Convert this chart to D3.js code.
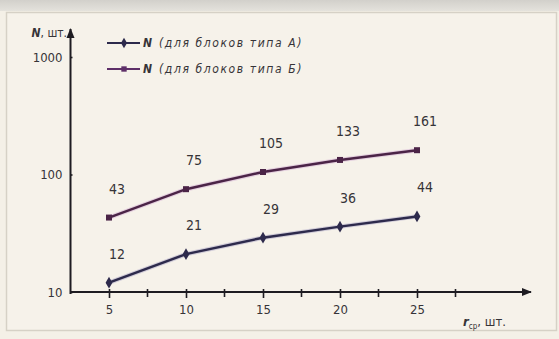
<!DOCTYPE html>
<html>
<head>
<meta charset="utf-8">
<script src="https://cdn.jsdelivr.net/npm/d3@7/dist/d3.min.js"></script>
<style>
  html, body { margin: 0; padding: 0; background: #f4f0e7; }
  svg { display: block; }
  text { font-family: "DejaVu Sans Condensed", "DejaVu Sans", sans-serif; font-stretch: condensed; fill: #363438; }
</style>
</head>
<body>
<svg id="chart" width="559" height="339"></svg>
<script>
// Number of blocks vs. average r
const rValues = [5, 10, 15, 20, 25];
const seriesA = [12, 21, 29, 36, 44];     // блоки типа А
const seriesB = [43, 75, 105, 133, 161];  // блоки типа Б
const xTickValues = [5, 10, 15, 20, 25];
const xMinorTicks = [7.5, 12.5, 17.5, 22.5, 27.5];
const yTickValues = [10, 100, 1000];
const legendLabels = ["(для блоков типа А)", "(для блоков типа Б)"];

const svg = d3.select("#chart");
const W = 559, H = 339;
const fontFam = "'DejaVu Sans Condensed', 'DejaVu Sans', sans-serif";

// Paper background with a darker strip at the top and a thin frame
const defs = svg.append("defs");
const grad = defs.append("linearGradient").attr("id", "topband").attr("x1", 0).attr("x2", 0).attr("y1", 0).attr("y2", 1);
grad.append("stop").attr("offset", "0%").attr("stop-color", "#d2d0cb");
grad.append("stop").attr("offset", "100%").attr("stop-color", "#e4e2dc");
svg.append("rect").attr("width", W).attr("height", H).attr("fill", "#f4f0e7");
svg.append("rect").attr("width", W).attr("height", 11).attr("fill", "url(#topband)");
svg.append("rect").attr("x", 6.5).attr("y", 12.5).attr("width", 550).attr("height", 318)
  .attr("fill", "#f6f2ea").attr("stroke", "#d6d1c6").attr("stroke-width", 1.5);

const x = d3.scaleLinear().domain([5, 25]).range([109, 417]);
const y = d3.scaleLog().domain([10, 1000]).range([292, 57]);

const axisColor = "#1e1c22";
const x0 = x(2.5), xEnd = x(32.4);
const yTop = 29;

// Arrow heads
defs.append("marker").attr("id", "arrow").attr("viewBox", "0 0 10 10")
  .attr("refX", 9).attr("refY", 5).attr("markerWidth", 5).attr("markerHeight", 5)
  .attr("orient", "auto")
  .append("path").attr("d", "M0,1 L10,5 L0,9 Z").attr("fill", axisColor);

// X axis
const xAxisG = svg.append("g").attr("transform", `translate(0,${y(10)})`);
xAxisG.call(d3.axisBottom(x).tickValues(xTickValues).tickSize(6).tickFormat(d3.format("d")));
xAxisG.select(".domain").remove();
xAxisG.selectAll(".tick line").attr("stroke", axisColor).attr("stroke-width", 1.6).attr("y1", -3);
xAxisG.selectAll(".tick text").attr("y", 13).attr("font-size", 13).attr("fill", "#363438")
  .style("font-family", fontFam).style("font-stretch", "condensed");
xAxisG.selectAll(".minor").data(xMinorTicks).enter().append("line")
  .attr("x1", d => x(d)).attr("x2", d => x(d)).attr("y1", -3).attr("y2", 5)
  .attr("stroke", axisColor).attr("stroke-width", 1.6);
svg.append("line").attr("x1", x0).attr("x2", xEnd).attr("y1", y(10)).attr("y2", y(10))
  .attr("stroke", axisColor).attr("stroke-width", 2).attr("marker-end", "url(#arrow)");

// Y axis
const yAxisG = svg.append("g").attr("transform", `translate(${x0},0)`);
yAxisG.call(d3.axisLeft(y).tickValues(yTickValues).tickSize(5).tickFormat(d3.format("d")));
yAxisG.select(".domain").remove();
yAxisG.selectAll(".tick line").attr("stroke", axisColor).attr("stroke-width", 1.6).attr("x2", 2);
yAxisG.selectAll(".tick text").attr("x", -8).attr("font-size", 13).attr("fill", "#363438")
  .style("font-family", fontFam).style("font-stretch", "condensed");
svg.append("line").attr("x1", x0).attr("x2", x0).attr("y1", y(10) + 2).attr("y2", yTop)
  .attr("stroke", axisColor).attr("stroke-width", 2).attr("marker-end", "url(#arrow)");

// Axis titles
const yTitle = svg.append("text").attr("x", 67).attr("y", 37).attr("font-size", 12)
  .attr("text-anchor", "end");
yTitle.append("tspan").attr("font-style", "italic").attr("font-weight", "bold").text("N");
yTitle.append("tspan").text(", шт.");

const xTitle = svg.append("text").attr("x", 463).attr("y", 326).attr("font-size", 13);
xTitle.append("tspan").attr("font-style", "italic").attr("font-weight", "bold").text("r");
xTitle.append("tspan").attr("font-size", 8).attr("dy", 3).text("ср");
xTitle.append("tspan").attr("dy", -3).text(", шт.");

// Series
const series = [
  { values: seriesA, color: "#2d2a4c", halo: "#8c86b8", shape: d3.symbolDiamond, size: 40 },
  { values: seriesB, color: "#4b2447", halo: "#c490c8", shape: d3.symbolSquare, size: 36 }
];

const line = d3.line().x(d => x(d[0])).y(d => y(d[1]));

series.forEach(s => {
  const pts = rValues.map((r, i) => [r, s.values[i]]);
  svg.append("path").datum(pts).attr("d", line).attr("fill", "none")
    .attr("stroke", s.halo).attr("stroke-opacity", 0.35).attr("stroke-width", 4.5);
  svg.append("path").datum(pts).attr("d", line).attr("fill", "none")
    .attr("stroke", s.color).attr("stroke-width", 2.5);
  svg.selectAll(null).data(pts).enter().append("path")
    .attr("d", d3.symbol().type(s.shape).size(s.size))
    .attr("transform", d => `translate(${x(d[0])},${y(d[1])})`)
    .attr("fill", s.color);
  svg.selectAll(null).data(pts).enter().append("text")
    .attr("x", d => x(d[0]) + 8).attr("y", d => y(d[1]) - 24)
    .attr("text-anchor", "middle").attr("font-size", 14).attr("fill", "#2e2c30")
    .text(d => d[1]);
});

// Legend
const legendColors = ["#2d2a4c", "#5e2f68"];
const legend = svg.append("g");
series.forEach((s, i) => {
  const ly = 43 + i * 26;
  legend.append("line").attr("x1", 107).attr("x2", 140).attr("y1", ly).attr("y2", ly)
    .attr("stroke", legendColors[i]).attr("stroke-width", 2.2);
  legend.append("path").attr("d", d3.symbol().type(s.shape).size(s.size * 0.8))
    .attr("transform", `translate(124,${ly})`).attr("fill", legendColors[i]);
  const t = legend.append("text").attr("x", 143).attr("y", ly + 4).attr("font-size", 12)
    .attr("font-style", "italic").attr("letter-spacing", 1.6);
  t.append("tspan").attr("font-weight", "bold").text("N ");
  t.append("tspan").text(legendLabels[i]);
});
</script>
</body>
</html>
